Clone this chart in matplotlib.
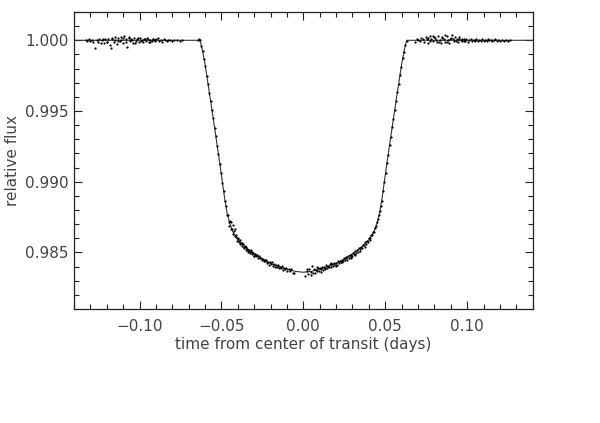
import numpy as np
import matplotlib
matplotlib.use('Agg')
import matplotlib.pyplot as plt
from matplotlib.ticker import MultipleLocator, FuncFormatter, FormatStrFormatter

# model light curve
model_t = [-0.1400, -0.0632, -0.0625, -0.0615, -0.0600, -0.0570, -0.0540, -0.0510,
           -0.0480, -0.0465, -0.0450, -0.0430, -0.0400, -0.0350, -0.0300, -0.0250,
           -0.0200, -0.0150, -0.0100, -0.0050, 0.0000, 0.0050, 0.0100, 0.0150,
           0.0200, 0.0250, 0.0300, 0.0350, 0.0400, 0.0430, 0.0450, 0.0465, 0.0480,
           0.0510, 0.0540, 0.0570, 0.0600, 0.0615, 0.0625, 0.0632, 0.1400]
model_f = [1.00000, 1.00000, 0.99975, 0.99925, 0.99830, 0.99602, 0.99368, 0.99130,
           0.98880, 0.98775, 0.98710, 0.98645, 0.98590, 0.98532, 0.98490, 0.98452,
           0.98422, 0.98400, 0.98382, 0.98366, 0.98360, 0.98366, 0.98382, 0.98400,
           0.98422, 0.98452, 0.98490, 0.98532, 0.98590, 0.98645, 0.98710, 0.98775, 0.98880,
           0.99130, 0.99368, 0.99602, 0.99830, 0.99925, 0.99975, 1.00000, 1.00000]

# out of transit, before
pre_t = [-0.1328, -0.1318, -0.1309, -0.1301, -0.1290, -0.1282, -0.1273, -0.1262, -0.1255,
         -0.1246, -0.1236, -0.1228, -0.1219, -0.1209, -0.1201, -0.1192, -0.1183, -0.1174,
         -0.1165, -0.1156, -0.1147, -0.1139, -0.1129, -0.1120, -0.1112, -0.1103, -0.1094,
         -0.1085, -0.1076, -0.1067, -0.1058, -0.1049, -0.1041, -0.1031, -0.1022, -0.1013,
         -0.1005, -0.0996, -0.0987, -0.0978, -0.0969, -0.0960, -0.0951, -0.0942, -0.0933,
         -0.0925, -0.0916, -0.0907, -0.0898, -0.0889, -0.0880, -0.0871, -0.0862, -0.0853,
         -0.0844, -0.0835, -0.0826, -0.0815, -0.0801, -0.0788, -0.0774, -0.0752, -0.0738,
         -0.0645, -0.0638,
         -0.1225, -0.1198, -0.1170, -0.1150, -0.1133, -0.1116, -0.1098, -0.1080, -0.1062,
         -0.1045, -0.1027, -0.1009, -0.0991, -0.0973, -0.0955, -0.0937, -0.0920, -0.0903]
pre_f = [1.00003, 0.99998, 1.00006, 0.99993, 1.00001, 0.99986, 0.99947, 1.00005, 0.99991,
         1.00010, 0.99984, 1.00002, 0.99979, 1.00012, 0.99990, 1.00008, 0.99970, 0.99949,
         1.00015, 0.99988, 1.00004, 0.99975, 1.00018, 0.99996, 1.00022, 0.99983, 1.00028,
         1.00006, 0.99953, 1.00019, 0.99992, 1.00011, 0.99981, 1.00014, 0.99997, 1.00009,
         0.99987, 1.00016, 1.00001, 0.99990, 1.00012, 0.99995, 1.00007, 0.99986, 1.00004,
         0.99998, 1.00010, 0.99993, 1.00006, 1.00015, 0.99996, 1.00003, 0.99991, 1.00008,
         1.00000, 0.99994, 1.00005, 1.00002, 0.99997, 1.00004, 0.99999, 0.99996, 1.00001,
         1.00004, 1.00012,
         1.00007, 0.99985, 1.00010, 1.00020, 0.99992, 1.00005, 1.00015, 0.99988, 1.00024,
         1.00003, 0.99979, 1.00018, 0.99995, 1.00008, 1.00014, 0.99990, 1.00011, 1.00004]

# ingress
ing_t = [-0.0631, -0.0622, -0.0614, -0.0606, -0.0598, -0.0590, -0.0582, -0.0574, -0.0566,
         -0.0558, -0.0550, -0.0542, -0.0534, -0.0526, -0.0518, -0.0510, -0.0502, -0.0494,
         -0.0486, -0.0478, -0.0472]
ing_f = [1.00002, 0.99963, 0.99922, 0.99868, 0.99817, 0.99751, 0.99694, 0.99630, 0.99573,
         0.99505, 0.99448, 0.99381, 0.99322, 0.99254, 0.99196, 0.99127, 0.99065, 0.98994,
         0.98932, 0.98863, 0.98828]

# bottom of transit, first half
btm1_t = [-0.0465, -0.0459, -0.0453, -0.0447, -0.0441, -0.0435, -0.0429, -0.0423, -0.0417,
          -0.0411, -0.0405, -0.0399, -0.0393, -0.0387, -0.0381, -0.0375, -0.0369, -0.0363,
          -0.0357, -0.0351, -0.0345, -0.0339, -0.0333, -0.0327, -0.0321, -0.0315, -0.0309,
          -0.0303, -0.0297, -0.0291, -0.0285, -0.0279, -0.0273, -0.0267, -0.0261, -0.0255,
          -0.0249, -0.0243, -0.0237, -0.0231, -0.0225, -0.0219, -0.0213, -0.0207, -0.0201,
          -0.0195, -0.0189, -0.0183, -0.0177, -0.0171, -0.0165, -0.0159, -0.0153, -0.0147,
          -0.0141, -0.0135, -0.0129, -0.0123, -0.0117, -0.0111, -0.0105, -0.0099, -0.0090,
          -0.0082, -0.0074, -0.0066, -0.0060,
          -0.0456, -0.0444, -0.0432, -0.0420, -0.0408, -0.0396, -0.0384, -0.0372, -0.0360,
          -0.0348, -0.0336, -0.0324, -0.0312, -0.0300, -0.0288]
btm1_f = [0.98765, 0.98764, 0.98715, 0.98720, 0.98669, 0.98667, 0.98628, 0.98650, 0.98616,
          0.98620, 0.98581, 0.98593, 0.98572, 0.98587, 0.98564, 0.98545, 0.98559, 0.98537,
          0.98548, 0.98518, 0.98526, 0.98505, 0.98520, 0.98504, 0.98514, 0.98489, 0.98495,
          0.98477, 0.98492, 0.98473, 0.98479, 0.98458, 0.98476, 0.98459, 0.98464, 0.98446,
          0.98452, 0.98436, 0.98450, 0.98437, 0.98445, 0.98426, 0.98433, 0.98413, 0.98429,
          0.98415, 0.98433, 0.98406, 0.98415, 0.98398, 0.98412, 0.98400, 0.98413, 0.98389,
          0.98399, 0.98389, 0.98401, 0.98378, 0.98392, 0.98383, 0.98391, 0.98368, 0.98382,
          0.98366, 0.98382, 0.98356, 0.98355,
          0.98690, 0.98718, 0.98695, 0.98665, 0.98608, 0.98600, 0.98560, 0.98565, 0.98530,
          0.98535, 0.98510, 0.98498, 0.98500, 0.98475, 0.98485]

# bottom of transit, second half
btm2_t = [0.0012, 0.0020, 0.0028, 0.0036, 0.0044, 0.0052, 0.0060, 0.0066, 0.0072, 0.0078,
          0.0084, 0.0090, 0.0096, 0.0102, 0.0108, 0.0114, 0.0120, 0.0126, 0.0132, 0.0138,
          0.0144, 0.0150, 0.0156, 0.0162, 0.0168, 0.0174, 0.0180, 0.0186, 0.0192, 0.0198,
          0.0204, 0.0210, 0.0216, 0.0222, 0.0228, 0.0234, 0.0240, 0.0246, 0.0252, 0.0258,
          0.0264, 0.0270, 0.0276, 0.0282, 0.0288, 0.0294, 0.0300, 0.0306, 0.0312, 0.0318,
          0.0324, 0.0330, 0.0336, 0.0342, 0.0348, 0.0354, 0.0360, 0.0366, 0.0372, 0.0378,
          0.0384, 0.0390, 0.0396, 0.0402, 0.0408, 0.0414, 0.0420, 0.0426, 0.0432, 0.0438,
          0.0444, 0.0450, 0.0456, 0.0462, 0.0468,
          0.0024, 0.0048, 0.0081, 0.0105, 0.0135, 0.0171, 0.0201, 0.0237, 0.0261, 0.0291,
          0.0315, 0.0345, 0.0375, 0.0405]
btm2_f = [0.98331, 0.98370, 0.98351, 0.98382, 0.98359, 0.98402, 0.98358, 0.98382, 0.98356,
          0.98378, 0.98367, 0.98393, 0.98370, 0.98389, 0.98381, 0.98397, 0.98376, 0.98394,
          0.98387, 0.98408, 0.98388, 0.98405, 0.98400, 0.98416, 0.98400, 0.98415, 0.98401,
          0.98425, 0.98414, 0.98427, 0.98414, 0.98441, 0.98426, 0.98441, 0.98429, 0.98445,
          0.98442, 0.98459, 0.98444, 0.98461, 0.98450, 0.98472, 0.98464, 0.98484, 0.98471,
          0.98484, 0.98474, 0.98497, 0.98490, 0.98510, 0.98497, 0.98514, 0.98506, 0.98532,
          0.98522, 0.98538, 0.98530, 0.98555, 0.98550, 0.98573, 0.98563, 0.98581, 0.98577,
          0.98604, 0.98601, 0.98622, 0.98621, 0.98645, 0.98648, 0.98675, 0.98688, 0.98713,
          0.98733, 0.98764, 0.98796,
          0.98385, 0.98342, 0.98395, 0.98365, 0.98380, 0.98425, 0.98405, 0.98430, 0.98470,
          0.98462, 0.98480, 0.98512, 0.98540, 0.98590]

# egress
egr_t = [0.0472, 0.0478, 0.0486, 0.0494, 0.0502, 0.0510, 0.0518, 0.0526, 0.0534, 0.0542,
         0.0550, 0.0558, 0.0566, 0.0574, 0.0582, 0.0590, 0.0598, 0.0606, 0.0614, 0.0622,
         0.0631]
egr_f = [0.98830, 0.98861, 0.98934, 0.98995, 0.99061, 0.99132, 0.99192, 0.99259, 0.99318,
         0.99386, 0.99444, 0.99510, 0.99569, 0.99635, 0.99690, 0.99756, 0.99813, 0.99872,
         0.99918, 0.99967, 0.99998]

# out of transit, after
post_t = [0.0684, 0.0692, 0.0701, 0.0710, 0.0719, 0.0728, 0.0737, 0.0746, 0.0754, 0.0763,
          0.0771, 0.0780, 0.0789, 0.0797, 0.0806, 0.0815, 0.0823, 0.0832, 0.0840, 0.0849,
          0.0858, 0.0866, 0.0875, 0.0884, 0.0892, 0.0901, 0.0910, 0.0918, 0.0927, 0.0936,
          0.0944, 0.0953, 0.0962, 0.0970, 0.0979, 0.0988, 0.0996, 0.1005, 0.1014, 0.1022,
          0.1031, 0.1040, 0.1049, 0.1057, 0.1066, 0.1075, 0.1084, 0.1092, 0.1101, 0.1110,
          0.1119, 0.1127, 0.1136, 0.1145, 0.1154, 0.1163, 0.1172, 0.1181, 0.1190, 0.1200,
          0.1210, 0.1222, 0.1235, 0.1248, 0.1262,
          0.0758, 0.0776, 0.0794, 0.0811, 0.0829, 0.0846, 0.0863, 0.0880, 0.0897, 0.0914,
          0.0931, 0.0949, 0.0966, 0.0983]
post_f = [0.99988, 1.00010, 1.00004, 0.99995, 1.00018, 1.00008, 0.99990, 1.00025, 1.00012,
          0.99982, 1.00030, 1.00006, 0.99993, 1.00022, 1.00014, 0.99985, 1.00027, 1.00003,
          0.99978, 1.00020, 1.00009, 0.99988, 1.00032, 1.00005, 0.99980, 1.00016, 1.00040,
          0.99992, 1.00024, 1.00007, 0.99985, 1.00012, 1.00002, 0.99994, 1.00010, 0.99997,
          1.00006, 0.99990, 1.00003, 1.00008, 0.99995, 1.00004, 0.99998, 1.00007, 0.99992,
          1.00003, 0.99996, 1.00009, 0.99998, 1.00002, 0.99994, 1.00006, 0.99999, 1.00004,
          0.99995, 1.00003, 1.00008, 0.99997, 1.00001, 0.99993, 1.00005, 0.99998, 1.00002,
          0.99996, 1.00004,
          1.00015, 0.99996, 1.00028, 1.00004, 0.99990, 1.00019, 1.00035, 0.99986, 1.00012,
          1.00006, 0.99993, 1.00021, 1.00010, 0.99998]

txtcol = '#444444'

def xfmt(v, pos):
    s = '%.2f' % abs(v)
    return '\u2212' + s if v < -1e-9 else s

fig = plt.figure(figsize=(6.0, 4.23), dpi=100)
ax = fig.add_axes([0.1233, 0.2695, 0.7645, 0.7021])

ax.plot(model_t, model_f, color='#333333', lw=0.8)
for t, f in [(pre_t, pre_f), (ing_t, ing_f), (btm1_t, btm1_f),
             (btm2_t, btm2_f), (egr_t, egr_f), (post_t, post_f)]:
    ax.plot(t, f, 'o', color='black', ms=1.6, mew=0)

ax.set_xlim(-0.14, 0.14)
ax.set_ylim(0.981, 1.002)

ax.xaxis.set_major_locator(MultipleLocator(0.05))
ax.xaxis.set_minor_locator(MultipleLocator(0.01))
ax.yaxis.set_major_locator(MultipleLocator(0.005))
ax.yaxis.set_minor_locator(MultipleLocator(0.001))
ax.xaxis.set_major_formatter(FuncFormatter(xfmt))
ax.yaxis.set_major_formatter(FormatStrFormatter('%.3f'))

ax.tick_params(which='both', direction='in', top=True, right=True,
               colors='#222222', labelcolor=txtcol, labelsize=11, width=0.8)
ax.tick_params(which='major', length=6)
ax.tick_params(which='minor', length=3.5)
ax.tick_params(axis='x', pad=7)
ax.tick_params(axis='y', pad=4)
for s in ax.spines.values():
    s.set_linewidth(0.9)
    s.set_color('#222222')

ax.set_xlabel('time from center of transit (days)', fontsize=11, color=txtcol, labelpad=2)
ax.set_ylabel('relative flux', fontsize=11, color=txtcol)
ax.yaxis.set_label_coords(-0.118, 0.5)

fig.savefig('out.png', dpi=100)
